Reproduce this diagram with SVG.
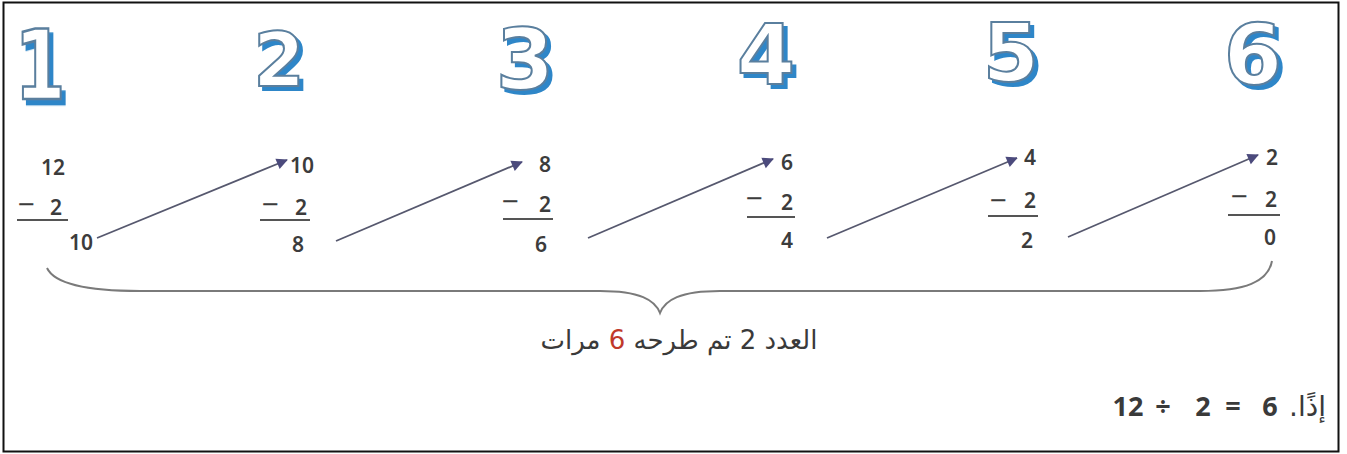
<svg xmlns="http://www.w3.org/2000/svg" width="1347" height="454" viewBox="0 0 1347 454">
<style>
.big{font-family:"DejaVu Sans",sans-serif;font-weight:bold;text-anchor:middle;fill:#ffffff;stroke:#5a7f9e;stroke-width:2;filter:url(#sh)}
.n{font-family:"Noto Sans","DejaVu Sans",sans-serif;font-size:21px;font-weight:600;fill:#3c3c3c;text-anchor:middle}
.m{font-family:"Noto Sans","DejaVu Sans",sans-serif;font-size:30px;fill:#3c3c3c;text-anchor:middle}
.bar{stroke:#555;stroke-width:2}
.arr{stroke:#56586e;stroke-width:1.8;fill:none;marker-end:url(#ah)}
.ar{font-family:"DejaVu Sans",sans-serif;font-size:26px;fill:#3a3a3a}
</style>
<defs>
<filter id="sh" x="-20%" y="-20%" width="150%" height="150%">
<feDropShadow dx="4" dy="4" stdDeviation="0" flood-color="#2f86c8" flood-opacity="1"/>
</filter>
<marker id="ah" viewBox="0 0 10 10" refX="9" refY="5" markerWidth="7" markerHeight="7" orient="auto" markerUnits="userSpaceOnUse" overflow="visible">
<path d="M0,0 L10,5 L0,10 z" fill="#4b4a7c" transform="scale(1.6) translate(-3.5,-1.9)"/>
</marker>
</defs>
<rect x="3.5" y="2.5" width="1335" height="449" fill="#ffffff" stroke="#111" stroke-width="2"/>

<g id="col1">
<text class="big" font-size="74" transform="translate(40 99) scale(1,1.3)">1</text>
<text class="n" x="53" y="175">12</text>
<text class="m" x="26" y="215">−</text>
<text class="n" x="56" y="215">2</text>
<line class="bar" x1="17" y1="220" x2="68" y2="220"/>
<text class="n" x="81" y="250">10</text>
</g>

<g id="col2">
<text class="big" font-size="74" x="279" y="86">2</text>
<text class="n" x="302" y="173">10</text>
<text class="m" x="270" y="215">−</text>
<text class="n" x="301" y="215">2</text>
<line class="bar" x1="260" y1="220" x2="310" y2="220"/>
<text class="n" x="298" y="252">8</text>
</g>

<g id="col3">
<text class="big" font-size="84" x="525" y="89">3</text>
<text class="n" x="545" y="172">8</text>
<text class="m" x="510" y="212">−</text>
<text class="n" x="545" y="212">2</text>
<line class="bar" x1="503" y1="219" x2="553" y2="219"/>
<text class="n" x="541" y="252">6</text>
</g>

<g id="col4">
<text class="big" font-size="84" x="766" y="84">4</text>
<text class="n" x="787" y="170">6</text>
<text class="m" x="754" y="209">−</text>
<text class="n" x="787" y="210">2</text>
<line class="bar" x1="747" y1="217" x2="795" y2="217"/>
<text class="n" x="787" y="248">4</text>
</g>

<g id="col5">
<text class="big" font-size="81" x="1011" y="81">5</text>
<text class="n" x="1030" y="165">4</text>
<text class="m" x="998" y="211">−</text>
<text class="n" x="1030" y="208">2</text>
<line class="bar" x1="988" y1="216" x2="1038" y2="216"/>
<text class="n" x="1027" y="248">2</text>
</g>

<g id="col6">
<text class="big" font-size="84" x="1253" y="84">6</text>
<text class="n" x="1272" y="165">2</text>
<text class="m" x="1239" y="207">−</text>
<text class="n" x="1271" y="207">2</text>
<line class="bar" x1="1228" y1="215" x2="1280" y2="215"/>
<text class="n" x="1270" y="245">0</text>
</g>

<g id="connectors">
<line class="arr" x1="97" y1="238" x2="287" y2="160"/>
<line class="arr" x1="336" y1="241" x2="522" y2="162"/>
<line class="arr" x1="588" y1="238" x2="773" y2="159"/>
<line class="arr" x1="827" y1="238" x2="1017" y2="158"/>
<line class="arr" x1="1068" y1="237" x2="1258" y2="155"/>
</g>

<g id="brace">
<path d="M47,268 C55,285 90,291 140,291 L600,291 C640,291 655,300 660,313 C665,300 680,291 720,291 L1200,291 C1245,291 1268,282 1272,261" fill="none" stroke="#7a7a7a" stroke-width="2"/>
</g>

<g id="caption">
<text class="ar" x="679" y="349" text-anchor="middle" direction="rtl">العدد 2 تم طرحه <tspan fill="#c0392b">6</tspan> مرات</text>
</g>

<g id="result">
<text y="416" font-family="Noto Sans, DejaVu Sans, sans-serif" font-size="27" font-weight="bold" fill="#3a3a3a" text-anchor="middle"><tspan x="1128">12</tspan><tspan x="1163">÷</tspan><tspan x="1203">2</tspan><tspan x="1233">=</tspan><tspan x="1270">6</tspan></text>
<text x="1326" y="416" font-family="DejaVu Sans, sans-serif" font-size="28" fill="#3a3a3a" direction="rtl" text-anchor="start">إذًا.</text>
</g>
</svg>
